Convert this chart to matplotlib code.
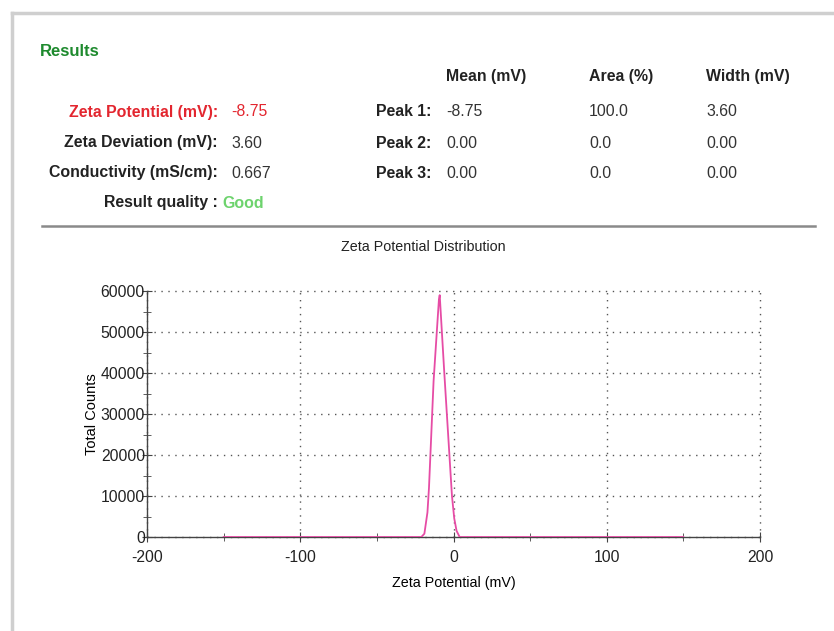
import matplotlib.pyplot as plt
from matplotlib.lines import Line2D
from matplotlib.ticker import MultipleLocator

W, H = 834, 631

# Summary values
summary_labels = ['Zeta Potential (mV):', 'Zeta Deviation (mV):', 'Conductivity (mS/cm):']
summary_values = ['-8.75', '3.60', '0.667']
quality = 'Good'

# Peak table
peak_names = ['Peak 1:', 'Peak 2:', 'Peak 3:']
peak_headers = ['Mean (mV)', 'Area (%)', 'Width (mV)']
peak_mean = ['-8.75', '0.00', '0.00']
peak_area = ['100.0', '0.0', '0.0']
peak_width = ['3.60', '0.00', '0.00']

# Distribution curve
zeta_mv = [-150, -21, -19, -17, -16, -13, -9.5, -9, -6, -1, 0.5, 2, 4, 150]
total_counts = [0, 0, 800, 6000, 12000, 38000, 58000, 59000, 40000, 10000, 4500, 1500, 0, 0]

plt.rcParams['font.family'] = ['Liberation Sans', 'DejaVu Sans']
plt.rcParams['axes.unicode_minus'] = False

fig = plt.figure(figsize=(W / 100, H / 100), dpi=100)
fig.patch.set_facecolor('white')


def px(x, y):
    return x / W, 1 - y / H


def put(x, y, s, **kw):
    kw.setdefault('va', 'center')
    kw.setdefault('color', '#222222')
    fig.text(*px(x, y), s, **kw)


# page frame
fig.add_artist(Line2D([12 / W, 1], [1 - 13 / H] * 2, color='#cfcfcf', lw=2.5,
                      transform=fig.transFigure))
fig.add_artist(Line2D([12 / W] * 2, [0, 1 - 13 / H], color='#cfcfcf', lw=2.5,
                      transform=fig.transFigure))

put(40, 51, 'Results', color='#1e8a2e', fontweight='bold', fontsize=12)

fs = 11.4
row_y = [112, 143, 173]
for i, (lab, val) in enumerate(zip(summary_labels, summary_values)):
    col = '#e3262f' if i == 0 else '#222222'
    put(218, row_y[i], lab, ha='right', fontweight='bold', fontsize=fs, color=col)
    put(231, row_y[i], val, ha='left', fontsize=fs, color='#e3262f' if i == 0 else '#333333')
put(218, 203, 'Result quality :', ha='right', fontweight='bold', fontsize=fs)
put(222, 203, quality, ha='left', fontweight='bold', fontsize=fs, color='#6dd36d')

col_x = [446, 589, 706]
for x, h in zip(col_x, peak_headers):
    put(x, 76, h, ha='left', fontweight='bold', fontsize=fs)
for i, name in enumerate(peak_names):
    put(431, row_y[i], name, ha='right', fontweight='bold', fontsize=fs)
    for x, v in zip(col_x, (peak_mean[i], peak_area[i], peak_width[i])):
        put(x, row_y[i], v, ha='left', fontsize=fs, color='#333333')

# separator
fig.add_artist(Line2D([42 / W, 815 / W], [1 - 226 / H] * 2, color='#8a8a8a', lw=1.8,
                      transform=fig.transFigure))

# chart
ax = fig.add_axes([147 / W, 1 - 537 / H, 613 / W, 246 / H])
ax.plot(zeta_mv, total_counts, color='#e64ca5', lw=1.3, zorder=3)
ax.set_xlim(-200, 200)
ax.set_ylim(0, 60000)
ax.xaxis.set_major_locator(MultipleLocator(100))
ax.xaxis.set_minor_locator(MultipleLocator(50))
ax.yaxis.set_major_locator(MultipleLocator(10000))
ax.yaxis.set_minor_locator(MultipleLocator(5000))
for s in ('top', 'right'):
    ax.spines[s].set_visible(False)
for s in ('left', 'bottom'):
    ax.spines[s].set_color('#444444')
    ax.spines[s].set_linewidth(1.0)
ax.tick_params(which='both', direction='inout', color='#444444', labelsize=11.3,
               labelcolor='#222222')
ax.tick_params(which='major', length=7)
ax.tick_params(which='minor', length=6)
ax.tick_params(axis='x', pad=6)
ax.tick_params(axis='y', pad=-2)
ax.grid(True, which='major', linestyle=(0, (1, 4)), color='#555555', lw=1.0)
for gl in ax.get_xgridlines() + ax.get_ygridlines():
    gl.set_clip_on(False)
ax.set_axisbelow(True)
ax.set_xlabel('Zeta Potential (mV)', fontsize=10.3, labelpad=8)
ax.set_ylabel('Total Counts', fontsize=10.5, labelpad=1)
put(423, 247, 'Zeta Potential Distribution', ha='center', fontsize=10.3)

fig.savefig('out.png', dpi=100)
